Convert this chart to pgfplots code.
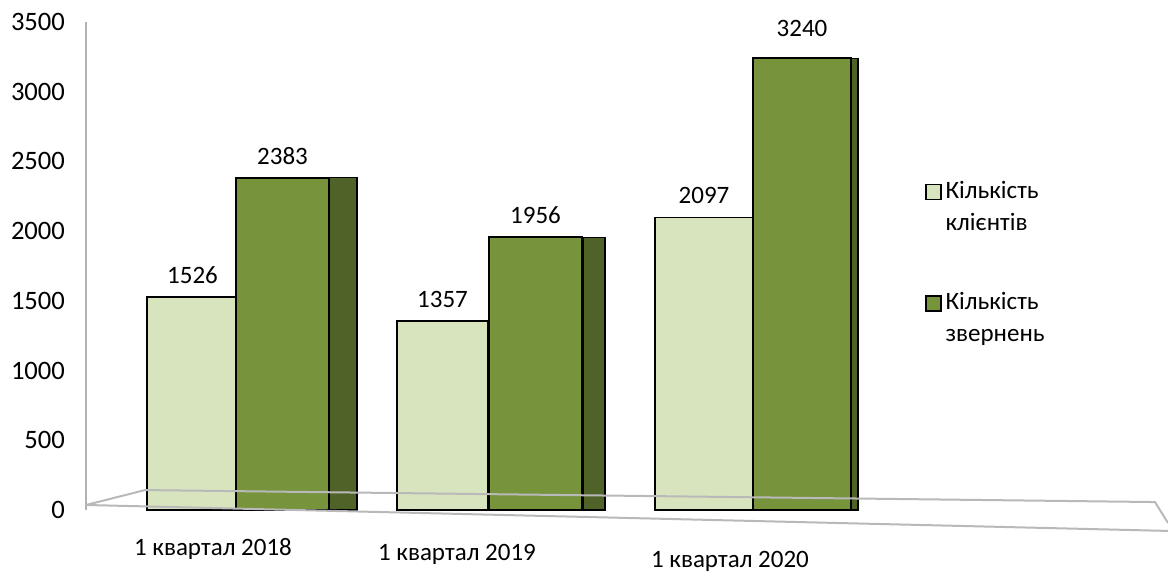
\documentclass[border=0pt]{standalone}
\usepackage{fontspec}
\setmainfont{Carlito}
\usepackage{pgfplots}
\pgfplotsset{compat=1.18}
\definecolor{lightg}{HTML}{D7E4BD}
\definecolor{darkg}{HTML}{77933C}
\definecolor{sideg}{HTML}{4F6228}
\begin{document}
\begin{tikzpicture}
\useasboundingbox (-43pt,-32pt) rectangle (541pt,255pt);
\begin{axis}[
  at={(0,0)}, anchor=south west,
  scale only axis, width=541pt, height=244pt,
  xmin=86, xmax=1168, ymin=0, ymax=3500,
  clip=false,
  axis lines=left,
  x axis line style={draw=none},
  y axis line style={draw=gray!60, line width=1pt, -},
  major tick length=0pt,
  ytick={0,500,...,3500},
  xtick={213,457,730},
  xticklabels={1 квартал 2018, \raisebox{-2.5pt}{1 квартал 2019}, \raisebox{-6pt}{1 квартал 2020}},
  xticklabel style={anchor=base, yshift=-22.5pt, font=\fontsize{12.5}{15}\selectfont},
  yticklabel style={xshift=-7pt, font=\fontsize{13.3}{15}\selectfont},
  /pgf/number format/assume math mode=true,
  /pgf/number format/1000 sep={},
  ybar, bar shift=0pt,
  legend style={at={(0.7754,0.685)}, anchor=north west, draw=none, fill=none,
    inner sep=0pt, row sep=43pt, column sep=2pt,
    font=\fontsize{12.5}{16}\selectfont,
    nodes={inner sep=0pt},
    cells={anchor=base west}},
  legend image code/.code={\draw[#1, line width=0.6pt] (0pt,-0.5pt) rectangle (7.5pt,7pt);},
  every node near coord/.append style={font=\fontsize{12.5}{15}\selectfont, black, yshift=3pt},
]
% side faces of the dark bars
\addplot[fill=sideg, draw=black, line width=0.6pt, bar width=14.5pt, forget plot] coordinates {(342.5,2383)};
\addplot[fill=sideg, draw=black, line width=0.6pt, bar width=11pt, forget plot] coordinates {(594,1956)};
\addplot[fill=sideg, draw=black, line width=0.6pt, bar width=3.5pt, forget plot] coordinates {(854.5,3240)};
% main bars, first two groups
\addplot[fill=lightg, draw=black, line width=0.8pt, bar width=45.5pt, nodes near coords] coordinates {(192.5,1526) (442.5,1357)};
\addlegendentry{\begin{tabular}[t]{@{}l@{}}Кількість\\клієнтів\end{tabular}}
\addplot[fill=darkg, draw=black, line width=0.8pt, bar width=46.5pt, nodes near coords] coordinates {(282.5,2383) (535.5,1956)};
\addlegendentry{\begin{tabular}[t]{@{}l@{}}Кількість\\звернень\end{tabular}}
% third group (slightly wider bars)
\addplot[fill=lightg, draw=black, line width=0.8pt, bar width=49pt, nodes near coords, forget plot] coordinates {(704,2097)};
\addplot[fill=darkg, draw=black, line width=0.8pt, bar width=49pt, nodes near coords, forget plot,
  every node near coord/.append style={yshift=4pt}] coordinates {(802,3240)};
% floor outline
\draw[gray!55, line width=1pt] (axis cs:86,36) -- (axis cs:1168,-150);
\draw[gray!55, line width=1pt] (axis cs:86,36) -- (axis cs:145,143) -- (axis cs:1155,57) -- (axis cs:1168,-93);
\end{axis}
\end{tikzpicture}
\end{document}
